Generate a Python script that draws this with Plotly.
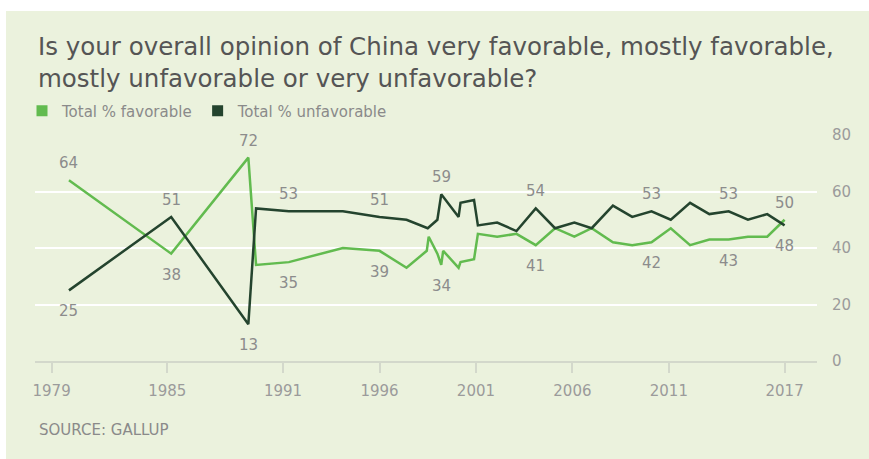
import plotly.graph_objects as go

# ---- data ----
fav_years = [1979.9, 1985.2, 1989.2, 1989.6, 1991.3, 1994.1, 1996.0, 1997.4, 1998.45, 1998.55,
             1999.0, 1999.2, 1999.3, 2000.1, 2000.2, 2000.9, 2001.1, 2002.1, 2003.1, 2004.1,
             2005.1, 2006.1, 2007.0, 2008.1, 2009.1, 2010.1, 2011.1, 2012.1, 2013.1, 2014.1,
             2015.1, 2016.1, 2017.0]
fav_values = [64, 38, 72, 34, 35, 40, 39, 33, 39, 44,
              38, 34, 39, 33, 35, 36, 45, 44, 45, 41,
              47, 44, 47, 42, 41, 42, 47, 41, 43, 43,
              44, 44, 50]

unfav_years = [1979.9, 1985.2, 1989.2, 1989.6, 1991.3, 1994.1, 1996.0, 1997.4, 1998.5, 1999.0,
               1999.2, 2000.1, 2000.2, 2000.9, 2001.1, 2002.1, 2003.1, 2004.1, 2005.1, 2006.1,
               2007.0, 2008.1, 2009.1, 2010.1, 2011.1, 2012.1, 2013.1, 2014.1, 2015.1, 2016.1,
               2017.0]
unfav_values = [25, 51, 13, 54, 53, 53, 51, 50, 47, 50,
                59, 51, 56, 57, 48, 49, 46, 54, 47, 49,
                47, 55, 51, 53, 50, 56, 52, 53, 50, 52,
                48]

# labelled points: (index into series, position)
fav_labels = [(0, "above"), (1, "below"), (2, "above"), (4, "below"), (6, "below"),
              (11, "below"), (19, "below"), (25, "below"), (29, "below"), (32, "above")]
unfav_labels = [(0, "below"), (1, "above"), (2, "below"), (4, "above"), (6, "above"),
                (10, "above"), (17, "above"), (23, "above"), (27, "above"), (30, "below")]

x_ticks = [1979, 1985, 1991, 1996, 2001, 2006, 2011, 2017]
y_ticks = [0, 20, 40, 60, 80]

title_text = ("Is your overall opinion of China very favorable, mostly favorable,<br>"
              "mostly unfavorable or very unfavorable?")
fav_name = "Total % favorable"
unfav_name = "Total % unfavorable"
source_text = "SOURCE: GALLUP"

# ---- style ----
FAV_COLOR = "#62bb4f"
UNFAV_COLOR = "#24442e"
BG = "#ebf2dd"
LABEL_GRAY = "#8c8c8c"
TICK_GRAY = "#9b9b9b"

# plot-area geometry (px) used to place decorations in paper coords
L, R, T, B = 35, 52, 135, 98
W, H = 869, 459
PW, PH = W - L - R, H - T - B


def px_x(px):
    return (px - L) / PW


def px_y(py):
    return (H - B - py) / PH


fig = go.Figure()
fig.add_trace(go.Scatter(x=fav_years, y=fav_values, mode="lines",
                         line=dict(color=FAV_COLOR, width=2.5), showlegend=False,
                         cliponaxis=False))
fig.add_trace(go.Scatter(x=unfav_years, y=unfav_values, mode="lines",
                         line=dict(color=UNFAV_COLOR, width=2.5), showlegend=False,
                         cliponaxis=False))
# legend entries (squares)
fig.add_trace(go.Scatter(x=[None], y=[None], mode="markers", name=fav_name,
                         marker=dict(symbol="square", size=11, color=FAV_COLOR)))
fig.add_trace(go.Scatter(x=[None], y=[None], mode="markers", name=unfav_name,
                         marker=dict(symbol="square", size=11, color=UNFAV_COLOR)))

annotations = []
for years, vals, labels in ((fav_years, fav_values, fav_labels),
                            (unfav_years, unfav_values, unfav_labels)):
    for idx, pos in labels:
        annotations.append(dict(
            x=years[idx], y=vals[idx], xref="x", yref="y",
            text=str(vals[idx]), showarrow=False,
            xanchor="center", yanchor="middle",
            yshift=17 if pos == "above" else -21,
            font=dict(family="DejaVu Sans", size=15, color=LABEL_GRAY)))

# title
annotations.append(dict(
    x=px_x(36), y=px_y(30), xref="paper", yref="paper",
    text=title_text, showarrow=False, xanchor="left", yanchor="top", align="left",
    font=dict(family="DejaVu Sans", size=24.5, color="#555555")))

# source
annotations.append(dict(
    x=px_x(37), y=px_y(430), xref="paper", yref="paper",
    text=source_text, showarrow=False, xanchor="left", yanchor="middle",
    font=dict(family="DejaVu Sans", size=15, color="#8a8a8a")))

fig.update_layout(
    width=W, height=H,
    margin=dict(l=L, r=R, t=T, b=B),
    paper_bgcolor="white",
    plot_bgcolor="rgba(0,0,0,0)",
    legend=dict(orientation="h", x=px_x(22), xanchor="left", y=px_y(111), yanchor="middle",
                font=dict(family="DejaVu Sans", size=15, color="#8a8a8a"),
                bgcolor="rgba(0,0,0,0)", itemwidth=30, tracegroupgap=0),
    xaxis=dict(range=[1978.14, 2018.68], tickvals=x_ticks,
               ticktext=[str(t) for t in x_ticks],
               showgrid=False, zeroline=False,
               showline=True, linecolor="#d3d8cb", linewidth=2,
               ticks="outside", ticklen=10, tickcolor="#d3d8cb", tickwidth=1.5,
               tickfont=dict(family="DejaVu Sans", size=15, color=TICK_GRAY),
               ticklabelstandoff=5, fixedrange=True),
    yaxis=dict(range=[0, 80], tickvals=y_ticks, side="right",
               showgrid=True, gridcolor="white", gridwidth=2,
               zeroline=False, showline=False, ticks="",
               tickfont=dict(family="DejaVu Sans", size=15, color=TICK_GRAY),
               ticklabelstandoff=14, fixedrange=True),
    annotations=annotations,
    shapes=[dict(type="rect", xref="paper", yref="paper",
                 x0=px_x(6), x1=px_x(W), y0=px_y(H), y1=px_y(11),
                 fillcolor=BG, line=dict(width=0), layer="below")],
)

fig.write_html("out.html")
